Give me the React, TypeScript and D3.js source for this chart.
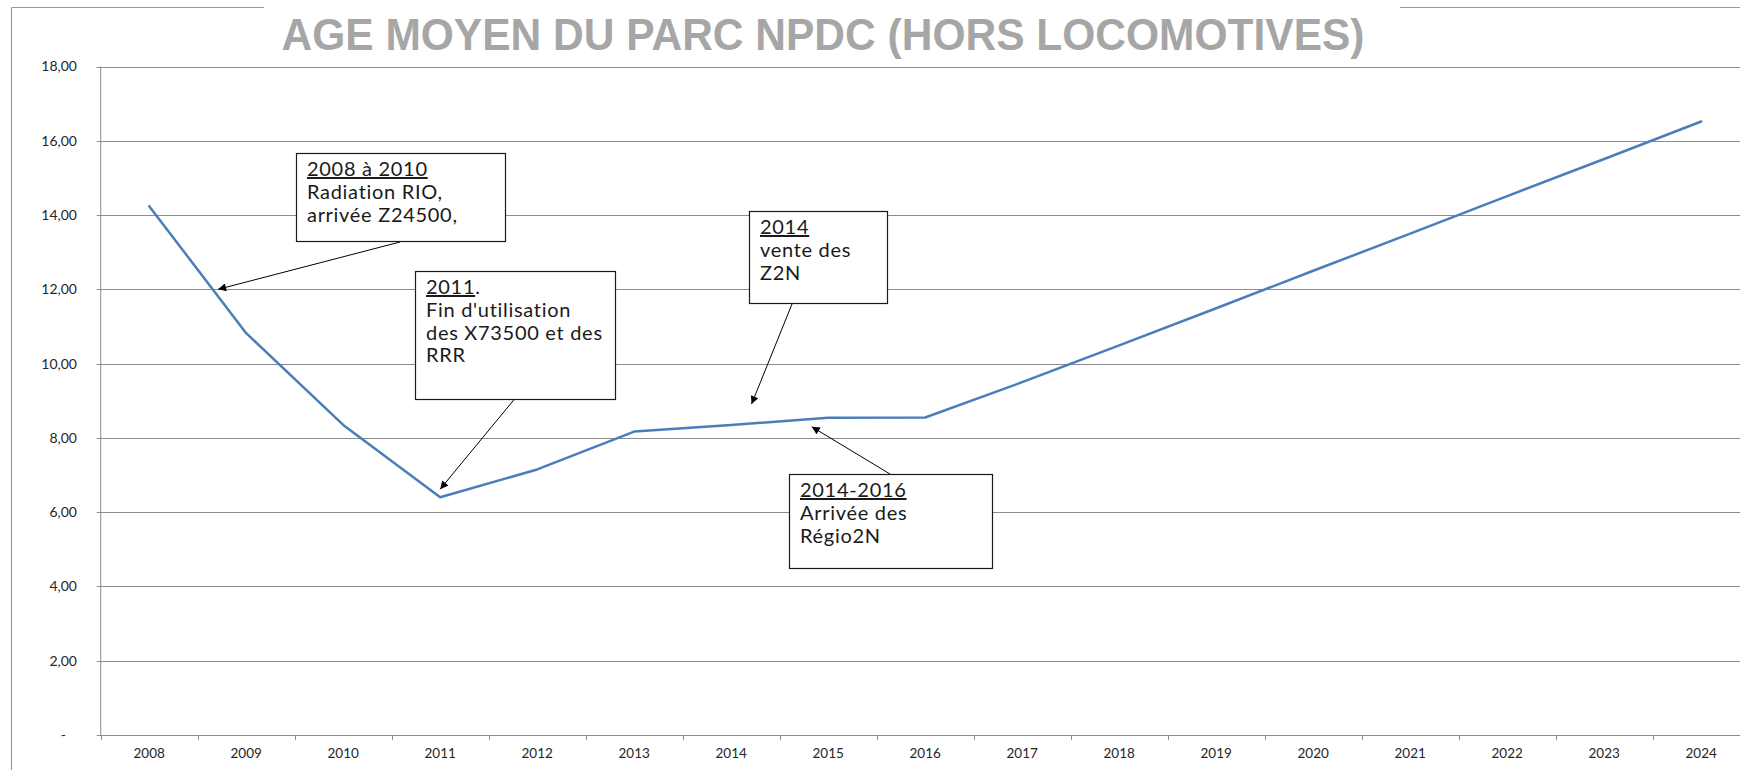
import React from "react";
import * as d3 from "d3";

// data
const years = ["2008", "2009", "2010", "2011", "2012", "2013", "2014", "2015", "2016",
  "2017", "2018", "2019", "2020", "2021", "2022", "2023", "2024"];
const ageMoyen = [14.24, 10.82, 8.35, 6.4, 7.15, 8.17, 8.35, 8.54, 8.55,
  9.5, 10.49, 11.49, 12.5, 13.5, 14.51, 15.51, 16.52];
const yTicks = [0, 2, 4, 6, 8, 10, 12, 14, 16, 18];
const title = "AGE MOYEN DU PARC NPDC (HORS LOCOMOTIVES)";

// annotation texts: underlined head, rest of first line, other lines
const noteHeads = ["2008 à 2010", "2011", "2014", "2014-2016"];
const noteHeadRest = ["", ".", "", ""];
const noteLines = [
  ["Radiation RIO,", "arrivée Z24500,"],
  ["Fin d'utilisation", "des X73500 et des", "RRR"],
  ["vente des", "Z2N"],
  ["Arrivée des", "Régio2N"],
];
// where each arrow points, in (category offset, value)
const noteTargets: [number, number][] = [[0.71, 12.0], [3.0, 6.62], [6.21, 8.91], [6.83, 8.3]];

// layout of the boxes (pixels)
const boxes = [
  { x: 296, y: 153, w: 209, h: 88, ax: 400, ay: 242 },
  { x: 415, y: 271, w: 200, h: 128, ax: 517, ay: 396 },
  { x: 749, y: 211, w: 138, h: 92, ax: 792, ay: 304 },
  { x: 789, y: 474, w: 203, h: 94, ax: 890, ay: 474 },
];

const W = 1740;
const H = 770;
const left = 100.7;
const band = 97;
const top = 66.5;
const bottom = 735;

export default function App() {
  const x = d3.scaleBand<string>()
    .domain(years)
    .range([left, left + band * years.length])
    .paddingInner(0)
    .paddingOuter(0);

  const y = d3.scaleLinear().domain([0, 18]).range([bottom, top]);

  const cx = (i: number) => (x(years[0]) as number) + x.bandwidth() / 2 + i * x.bandwidth();

  const line = d3.line<number>()
    .x((d, i) => cx(i))
    .y((d) => y(d));

  const fmt = (v: number) => (v === 0 ? "-" : d3.format(".2f")(v).replace(".", ","));

  const gridColor = "#8c8c8c";
  const labelFont = "Lato, 'Open Sans', sans-serif";

  return (
    <svg width={W} height={H} style={{ position: "absolute", left: 0, top: 0, display: "block", background: "#fff" }}>
      <defs>
        <marker id="arrow" viewBox="0 0 10 10" refX="10" refY="5" markerWidth="10" markerHeight="8"
          markerUnits="userSpaceOnUse" orient="auto">
          <path d="M0,0 L10,5 L0,10 z" fill="#000" />
        </marker>
      </defs>

      {/* outer frame */}
      <line x1={11.5} x2={11.5} y1={7.5} y2={H} stroke="#9a9a9a" strokeWidth={1.2} />
      <line x1={11.5} x2={264} y1={7.5} y2={7.5} stroke="#9a9a9a" strokeWidth={1.2} />
      <line x1={1400} x2={W} y1={7.5} y2={7.5} stroke="#9a9a9a" strokeWidth={1.2} />

      {/* title */}
      <text x={281.5} y={50} fontFamily="'Liberation Sans', Arial, sans-serif" fontWeight="bold"
        fontSize={45} fill="#a6a6a6" textLength={1083} lengthAdjust="spacingAndGlyphs">
        {title}
      </text>

      {/* gridlines + y labels */}
      {yTicks.map((t) => (
        <g key={t}>
          <line x1={left - 4} x2={W} y1={Math.round(y(t)) + 0.5} y2={Math.round(y(t)) + 0.5}
            stroke={gridColor} strokeWidth={1} />
          <text x={t === 0 ? 66 : 77} y={y(t)} dy="0.35em" textAnchor="end"
            fontFamily={labelFont} fontSize={14} fill="#262626">
            {fmt(t)}
          </text>
        </g>
      ))}

      {/* y axis */}
      <line x1={left} x2={left} y1={top} y2={bottom} stroke={gridColor} strokeWidth={1} />

      {/* x ticks + labels */}
      {years.map((yr, i) => (
        <g key={yr}>
          <line x1={Math.round(x(yr) as number) + 0.5} x2={Math.round(x(yr) as number) + 0.5}
            y1={bottom} y2={bottom + 5} stroke={gridColor} strokeWidth={1} />
          <text x={cx(i)} y={bottom + 23} textAnchor="middle" fontFamily={labelFont}
            fontSize={13.5} fill="#262626">
            {yr}
          </text>
        </g>
      ))}

      {/* series */}
      <path d={line(ageMoyen) || ""} fill="none" stroke="#4a7ebb" strokeWidth={2.5}
        strokeLinejoin="round" strokeLinecap="round" />

      {/* annotations */}
      {boxes.map((b, k) => {
        const [off, v] = noteTargets[k];
        const tx = cx(off);
        const ty = y(v);
        return (
          <g key={k}>
            <line x1={b.ax} y1={b.ay} x2={tx} y2={ty} stroke="#000" strokeWidth={1}
              markerEnd="url(#arrow)" />
            <rect x={b.x + 0.5} y={b.y + 0.5} width={b.w} height={b.h} fill="#fff"
              stroke="#1a1a1a" strokeWidth={1.2} />
            <text x={b.x + 11} y={b.y + 23} fontFamily={labelFont} fontSize={20} fill="#1a1a1a"
              letterSpacing={0.7}>
              <tspan textDecoration="underline">{noteHeads[k]}</tspan>
              <tspan>{noteHeadRest[k]}</tspan>
              {noteLines[k].map((l, j) => (
                <tspan key={j} x={b.x + 11} dy={22.8}>{l}</tspan>
              ))}
            </text>
          </g>
        );
      })}
    </svg>
  );
}
